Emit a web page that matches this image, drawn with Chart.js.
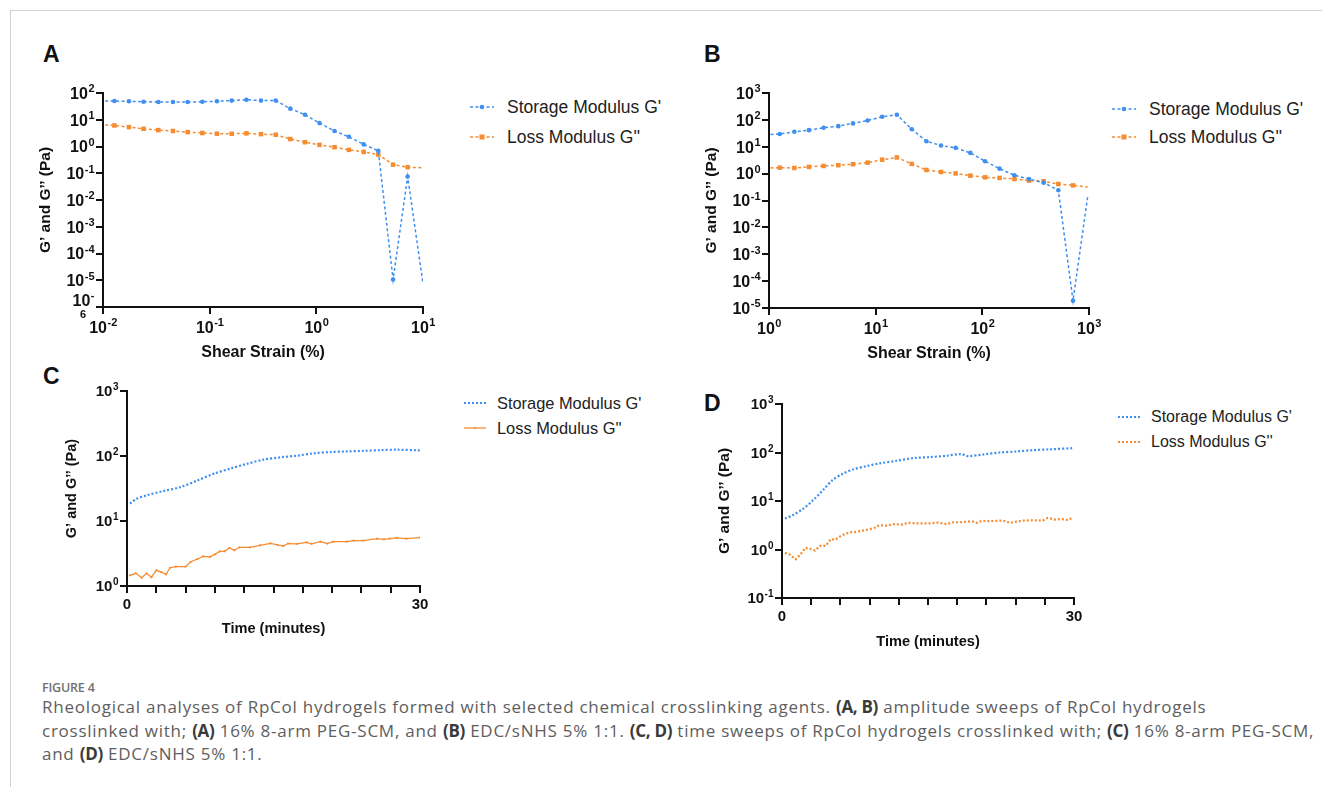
<!DOCTYPE html>
<html>
<head>
<meta charset="utf-8">
<script src="https://cdn.jsdelivr.net/npm/chart.js@4/dist/chart.umd.min.js"></script>
<style>
  body { margin: 0; width: 1322px; height: 787px; background: #fff; position: relative; overflow: hidden;
         font-family: "Liberation Sans", Arial, sans-serif; }
  .frame-top { position: absolute; left: 10px; top: 10px; width: 1312px; height: 0; border-top: 1.5px solid #d2d2d2; }
  .frame-left { position: absolute; left: 10px; top: 10px; width: 0; height: 777px; border-left: 1.5px solid #d2d2d2; }
  canvas { position: absolute; }
  .letter { position: absolute; font-weight: bold; font-size: 23px; line-height: 1; color: #111; }
  .lg { position: absolute; white-space: nowrap; color: #222; line-height: 20px; }
  .lg svg { position: absolute; }
  .cap-title { position: absolute; left: 42px; top: 679px; font-family: "Open Sans", sans-serif; font-size: 12.5px;
               font-weight: 600; color: #707070; letter-spacing: -0.2px; }
  .cap { position: absolute; left: 42px; top: 695px; font-family: "Open Sans", sans-serif; font-size: 17px;
         letter-spacing: 0.75px; line-height: 23.5px; color: #5e5e5e; white-space: nowrap; }
  .cap b { color: #3a3a3a; font-weight: 700; letter-spacing: -0.3px; }
</style>
</head>
<body>
<div class="frame-top"></div>
<div class="frame-left"></div>

<div class="letter" style="left:43px;top:43px">A</div>
<div class="letter" style="left:704px;top:43px">B</div>
<div class="letter" style="left:43px;top:365px">C</div>
<div class="letter" style="left:704px;top:392px">D</div>

<canvas id="chartA" width="430" height="300" style="left:20px;top:70px"></canvas>
<canvas id="chartB" width="420" height="300" style="left:690px;top:70px"></canvas>
<canvas id="chartC" width="430" height="280" style="left:20px;top:370px"></canvas>
<canvas id="chartD" width="420" height="290" style="left:690px;top:380px"></canvas>

<!-- legends -->
<div class="lg" style="left:470px;top:97px;font-size:17.5px">
  <svg width="24" height="10" style="left:0;top:5px"><line x1="0" y1="5" x2="24" y2="5" stroke="#3f8ff0" stroke-width="1.5" stroke-dasharray="3 2.5"/><circle cx="12" cy="5" r="2.3" fill="#3f8ff0"/></svg>
  <span style="margin-left:37px">Storage Modulus G'</span>
</div>
<div class="lg" style="left:470px;top:127px;font-size:17.5px">
  <svg width="24" height="10" style="left:0;top:5px"><line x1="0" y1="5" x2="24" y2="5" stroke="#f68c32" stroke-width="1.5" stroke-dasharray="3 2.5"/><rect x="9.5" y="2.5" width="5" height="5" fill="#f68c32"/></svg>
  <span style="margin-left:37px">Loss Modulus G''</span>
</div>

<div class="lg" style="left:1112px;top:99px;font-size:17.5px">
  <svg width="24" height="10" style="left:0;top:5px"><line x1="0" y1="5" x2="24" y2="5" stroke="#3f8ff0" stroke-width="1.5" stroke-dasharray="3 2.5"/><circle cx="12" cy="5" r="2.3" fill="#3f8ff0"/></svg>
  <span style="margin-left:37px">Storage Modulus G'</span>
</div>
<div class="lg" style="left:1112px;top:127px;font-size:17.5px">
  <svg width="24" height="10" style="left:0;top:5px"><line x1="0" y1="5" x2="24" y2="5" stroke="#f68c32" stroke-width="1.5" stroke-dasharray="3 2.5"/><rect x="9.5" y="2.5" width="5" height="5" fill="#f68c32"/></svg>
  <span style="margin-left:37px">Loss Modulus G''</span>
</div>

<div class="lg" style="left:464px;top:393px;font-size:16.4px">
  <svg width="22" height="10" style="left:0;top:5px"><line x1="0" y1="5" x2="22" y2="5" stroke="#3f8ff0" stroke-width="2" stroke-dasharray="2 2"/></svg>
  <span style="margin-left:33px">Storage Modulus G'</span>
</div>
<div class="lg" style="left:464px;top:418px;font-size:16.4px">
  <svg width="22" height="10" style="left:0;top:5px"><line x1="0" y1="5" x2="22" y2="5" stroke="#f68c32" stroke-width="1.3"/><circle cx="11" cy="5" r="1" fill="#f68c32"/></svg>
  <span style="margin-left:33px">Loss Modulus G''</span>
</div>

<div class="lg" style="left:1118px;top:407px;font-size:16px">
  <svg width="22" height="10" style="left:0;top:5px"><line x1="0" y1="5" x2="22" y2="5" stroke="#3f8ff0" stroke-width="2" stroke-dasharray="2 2"/></svg>
  <span style="margin-left:33px">Storage Modulus G'</span>
</div>
<div class="lg" style="left:1118px;top:432px;font-size:16px">
  <svg width="22" height="10" style="left:0;top:5px"><line x1="0" y1="5" x2="22" y2="5" stroke="#f68c32" stroke-width="2" stroke-dasharray="2 2"/></svg>
  <span style="margin-left:33px">Loss Modulus G''</span>
</div>

<div class="cap-title">FIGURE 4</div>
<div class="cap">Rheological analyses of RpCol hydrogels formed with selected chemical crosslinking agents. <b>(A, B)</b> amplitude sweeps of RpCol hydrogels<br>crosslinked with; <b>(A)</b> 16% 8-arm PEG-SCM, and <b>(B)</b> EDC/sNHS 5% 1:1. <b>(C, D)</b> time sweeps of RpCol hydrogels crosslinked with; <b>(C)</b> 16% 8-arm PEG-SCM,<br>and <b>(D)</b> EDC/sNHS 5% 1:1.</div>

<script>
// --- panel A: amplitude sweep, PEG-SCM
const aStrain = [0.0093, 0.0128, 0.0175, 0.024, 0.033, 0.0453, 0.0622, 0.0853, 0.117, 0.161, 0.221, 0.303, 0.416, 0.570, 0.783, 1.07, 1.48, 2.02, 2.78, 3.81, 5.24, 7.18, 10];
const aStorage = [50, 50, 49, 47, 46, 46, 46, 47, 49, 52, 56, 52, 52, 26, 15.4, 7.5, 3.8, 2.3, 1.2, 0.69, 1.06e-5, 0.075, 7.5e-6];
const aLoss = [6.6, 6.1, 5.3, 4.6, 4.1, 3.8, 3.45, 3.2, 3.0, 3.0, 3.1, 2.9, 2.75, 1.9, 1.45, 1.15, 0.94, 0.75, 0.63, 0.5, 0.21, 0.168, 0.16];
const aTicksX = [0.01, 0.1, 1, 10];
const aTicksY = [1e-6, 1e-5, 1e-4, 1e-3, 1e-2, 1e-1, 1, 10, 100];

// --- panel B: amplitude sweep, EDC/sNHS
const bStrain = [0.917, 1.26, 1.73, 2.37, 3.25, 4.47, 6.13, 8.41, 11.5, 15.8, 21.8, 29.9, 41.0, 56.2, 77.2, 106, 145, 200, 274, 376, 516, 708, 972];
const bStorage = [28, 30, 36, 41.5, 51, 58.5, 74, 95, 131, 155, 45, 16, 11.1, 9.1, 5.9, 2.9, 1.53, 0.87, 0.63, 0.46, 0.24, 1.86e-5, 0.14];
const bLoss = [1.6, 1.67, 1.62, 1.78, 1.93, 2.05, 2.24, 2.57, 3.3, 4.0, 2.3, 1.37, 1.15, 1.02, 0.84, 0.73, 0.69, 0.63, 0.55, 0.52, 0.41, 0.365, 0.32];
const bTicksX = [1, 10, 100, 1000];
const bTicksY = [1e-5, 1e-4, 1e-3, 1e-2, 1e-1, 1, 10, 100, 1000];

// --- panel C: time sweep, PEG-SCM
const cTimeStorage = [0.3, 1, 2, 3.7, 5.5, 7.2, 8.9, 10.6, 12.3, 14, 15.7, 17.4, 19.1, 20.8, 22.5, 24.2, 25.9, 27.6, 30];
const cStorage = [18.5, 22, 24.8, 28.8, 33.3, 42, 53.5, 64, 76, 88, 95.5, 101, 110, 115, 117.6, 120, 123, 125, 122];
const cTimeLoss = [0.3, 0.9, 1.5, 2, 2.5, 3, 3.5, 4, 4.4, 5, 6, 6.5, 7.2, 7.8, 8.5, 9, 9.5, 10, 10.5, 11, 11.5, 12.6, 13.6, 14.7, 15.4, 16, 16.5, 17.4, 18.4, 18.9, 19.8, 20.5, 21.1, 22.5, 23.2, 24.2, 25.6, 26.3, 26.9, 27.6, 28.6, 30];
const cLoss = [1.46, 1.57, 1.34, 1.57, 1.36, 1.74, 1.64, 1.51, 1.91, 1.98, 1.98, 2.34, 2.6, 2.86, 2.8, 3.07, 3.41, 3.41, 3.85, 3.54, 3.94, 3.94, 4.23, 4.53, 4.3, 4.12, 4.5, 4.45, 4.7, 4.45, 4.8, 4.5, 4.8, 4.8, 4.98, 5.0, 5.35, 5.2, 5.35, 5.5, 5.35, 5.55];
const cTicksY = [1, 10, 100, 1000];

// --- panel D: time sweep, EDC/sNHS
const dTimeStorage = [0.3, 1.1, 2.2, 3.2, 4.2, 5.2, 6.3, 7.3, 8.7, 10, 11.8, 13.5, 15.2, 16.9, 18.4, 19.1, 20.7, 22.4, 24.1, 25.8, 27.5, 29.9];
const dStorage = [4.35, 5.1, 7.0, 10.4, 16.7, 27, 37, 44.7, 52.5, 59.6, 67.6, 76.7, 80.4, 85.7, 92.7, 84.3, 91.2, 100, 105, 112, 116, 123];
const dTimeLoss = [0.3, 0.8, 1.4, 1.9, 2.4, 2.9, 3.4, 3.9, 4.5, 5, 5.5, 6, 6.5, 7, 7.6, 8.3, 9, 9.5, 10, 10.7, 11.5, 12.4, 12.9, 14.1, 15.2, 16, 16.9, 17.6, 18.4, 19.5, 20, 20.5, 21.3, 22.7, 23.4, 24.1, 24.8, 26.1, 26.8, 27.3, 28, 28.7, 29.4, 29.9];
const dLoss = [0.85, 0.79, 0.63, 0.79, 1.08, 1.03, 0.95, 1.19, 1.19, 1.63, 1.6, 1.88, 2.1, 2.27, 2.3, 2.45, 2.62, 2.8, 3.17, 3.1, 3.33, 3.27, 3.55, 3.45, 3.45, 3.6, 3.33, 3.65, 3.65, 3.84, 3.55, 3.9, 3.84, 3.95, 3.55, 3.75, 3.95, 4.0, 3.95, 4.49, 4.15, 4.25, 4.05, 4.63];
const dTicksY = [0.1, 1, 10, 100, 1000];

const timeTicks = [0, 30];

const BLUE = "#3f8ff0";
const ORANGE = "#f68c32";
const INK = "#111";
const FONT = "'Liberation Sans', Arial, sans-serif";

Chart.defaults.font.family = FONT;

// draws "10" with a real raised exponent on log axes (tick text itself is hidden)
const powLabels = {
  id: "powLabels",
  afterDraw(chart, args, opts) {
    const ctx = chart.ctx;
    const big = opts.size, small = opts.supSize;
    ctx.save();
    ctx.fillStyle = INK;
    ctx.textAlign = "left";
    ctx.textBaseline = "alphabetic";
    (opts.axes || []).forEach((id) => {
      const s = chart.scales[id];
      s.ticks.forEach((t) => {
        const e = Math.round(Math.log10(t.value));
        const p = s.getPixelForValue(t.value);
        let exp = String(e), wrap = "";
        if (!s.isHorizontal() && opts.wrapAt === e) { wrap = exp.slice(1); exp = "-"; }
        ctx.font = "bold " + big + "px " + FONT;
        const w1 = ctx.measureText("10").width;
        ctx.font = "bold " + small + "px " + FONT;
        const w2 = ctx.measureText(exp).width;
        let x0, base;
        if (s.isHorizontal()) {
          x0 = p - (w1 + w2) / 2;
          base = s.top + opts.xDrop;
        } else {
          x0 = s.right - opts.yGap - (w1 + w2);
          base = p + big * 0.36 - (wrap ? 7 : 0);
        }
        ctx.font = "bold " + big + "px " + FONT;
        ctx.fillText("10", x0, base);
        ctx.font = "bold " + small + "px " + FONT;
        ctx.fillText(exp, x0 + w1 + 0.5, base - big * 0.4);
        if (wrap) ctx.fillText(wrap, x0 + 7.5, base + 12.5);
      });
    });
    ctx.restore();
  },
};

const pts = (xs, ys) => xs.map((x, i) => ({ x: x, y: ys[i] }));

// hide marker on the last point (the original plot shows none there)
const noLast = (r) => (ctx) => ctx.dataIndex === ctx.dataset.data.length - 1 ? 0 : r;

function axisBase(extra) {
  return Object.assign({
    border: { color: INK, width: 2 },
    grid: { drawOnChartArea: false, color: INK, lineWidth: 2, tickLength: 7 },
  }, extra);
}

function logY(min, max, ticks, width, titlePad, titleSize) {
  return axisBase({
    type: "logarithmic",
    min: min,
    max: max,
    afterBuildTicks: (s) => { s.ticks = ticks.map(v => ({ value: v })); },
    afterFit: (s) => { s.width = width; },
    ticks: { display: false, autoSkip: false },
    title: {
      display: true,
      text: "G’ and G’’ (Pa)",
      color: INK,
      font: { size: titleSize, weight: "bold" },
      padding: { top: titlePad, bottom: 0 },
    },
  });
}

function logX(min, max, ticks, height, titlePad) {
  return axisBase({
    type: "logarithmic",
    min: min,
    max: max,
    afterBuildTicks: (s) => { s.ticks = ticks.map(v => ({ value: v })); },
    afterFit: (s) => { s.height = height; },
    ticks: { display: false, autoSkip: false },
    title: {
      display: true,
      text: "Shear Strain (%)",
      color: INK,
      font: { size: 16, weight: "bold" },
      padding: { top: 0, bottom: titlePad },
    },
  });
}

function timeX(height, titlePad) {
  return axisBase({
    type: "linear",
    min: 0,
    max: 30,
    afterFit: (s) => { s.height = height; },
    ticks: {
      stepSize: 3,
      autoSkip: false,
      maxRotation: 0,
      padding: 3,
      color: INK,
      font: { size: 15, weight: "bold" },
      callback: (v) => timeTicks.includes(v) ? String(v) : "",
    },
    title: {
      display: true,
      text: "Time (minutes)",
      color: INK,
      font: { size: 14.6, weight: "bold" },
      padding: { top: 0, bottom: titlePad },
    },
  });
}

function sweepSets(xs, storage, loss) {
  return [
    {
      label: "Storage Modulus G'",
      data: pts(xs, storage),
      borderColor: BLUE,
      backgroundColor: BLUE,
      borderWidth: 1.5,
      borderDash: [3, 2.5],
      pointStyle: "circle",
      pointRadius: noLast(2.3),
      pointBorderWidth: 0,
      tension: 0,
    },
    {
      label: "Loss Modulus G''",
      data: pts(xs, loss),
      borderColor: ORANGE,
      backgroundColor: ORANGE,
      borderWidth: 1.5,
      borderDash: [3, 2.5],
      pointStyle: "rect",
      pointRadius: noLast(3.2),
      pointBorderWidth: 0,
      tension: 0,
    },
  ];
}

function makeChart(id, datasets, scales, padding, pow) {
  return new Chart(document.getElementById(id), {
    type: "line",
    data: { datasets: datasets },
    plugins: [powLabels],
    options: {
      responsive: false,
      animation: false,
      devicePixelRatio: 1,
      layout: { padding: padding },
      plugins: { legend: { display: false }, tooltip: { enabled: false }, powLabels: pow },
      scales: scales,
    },
  });
}

// A
makeChart("chartA", sweepSets(aStrain, aStorage, aLoss), {
  x: logX(0.01, 10, aTicksX, 63, 8),
  y: logY(1e-6, 100, aTicksY, 83, 16.6, 15.5),
}, { top: 23, right: 27, left: 0, bottom: 0 },
{ axes: ["x", "y"], size: 16, supSize: 11, xDrop: 25.5, yGap: 9, wrapAt: -6 });

// B
makeChart("chartB", sweepSets(bStrain, bStorage, bLoss), {
  x: logX(1, 1000, bTicksX, 62, 7),
  y: logY(1e-5, 1000, bTicksY, 79, 12.6, 15.5),
}, { top: 23, right: 21, left: 0, bottom: 0 },
{ axes: ["x", "y"], size: 16, supSize: 11, xDrop: 25.5, yGap: 9 });

// C
makeChart("chartC", [
  {
    label: "Storage Modulus G'",
    data: pts(cTimeStorage, cStorage),
    borderColor: BLUE,
    borderWidth: 2.2,
    borderDash: [2, 2],
    pointRadius: 0,
    tension: 0.3,
  },
  {
    label: "Loss Modulus G''",
    data: pts(cTimeLoss, cLoss),
    borderColor: ORANGE,
    backgroundColor: ORANGE,
    borderWidth: 1.3,
    pointRadius: 1.1,
    pointBorderWidth: 0,
    tension: 0,
  },
], {
  x: timeX(64, 12),
  y: logY(1, 1000, cTicksY, 107, 43, 14.5),
}, { top: 21, right: 30, left: 0, bottom: 0 },
{ axes: ["y"], size: 15, supSize: 10, yGap: 9 });

// D
makeChart("chartD", [
  {
    label: "Storage Modulus G'",
    data: pts(dTimeStorage, dStorage),
    borderColor: BLUE,
    borderWidth: 2.2,
    borderDash: [2, 2],
    pointRadius: 0,
    tension: 0.3,
  },
  {
    label: "Loss Modulus G''",
    data: pts(dTimeLoss, dLoss),
    borderColor: ORANGE,
    borderWidth: 2.2,
    borderDash: [2, 2],
    pointRadius: 0,
    tension: 0,
  },
], {
  x: timeX(72, 19),
  y: logY(0.1, 1000, dTicksY, 92, 25, 15.5),
}, { top: 24, right: 36, left: 0, bottom: 0 },
{ axes: ["y"], size: 15, supSize: 10, yGap: 9 });
</script>
</body>
</html>
